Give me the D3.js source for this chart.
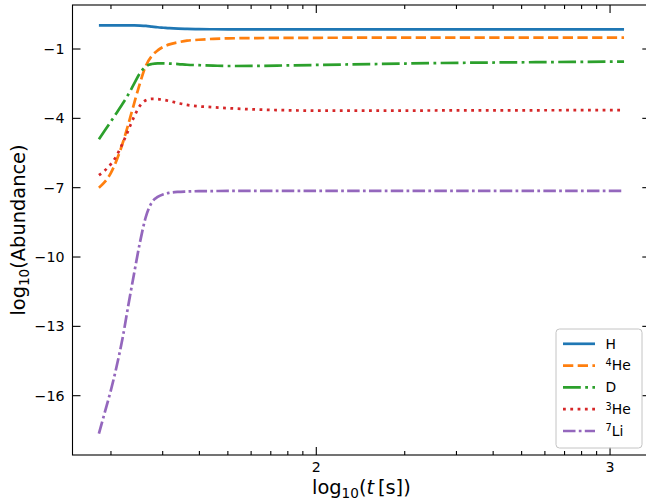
<!DOCTYPE html>
<html>
<head>
<meta charset="utf-8">
<script src="https://cdn.jsdelivr.net/npm/d3@7"></script>
<style>
  body { margin: 0; background: #fff; }
  svg { display: block; font-family: "DejaVu Sans", sans-serif; }
</style>
</head>
<body>
<svg id="chart"></svg>
<script>
// log10(t [s]) grid and log10 abundances
const logT = [1.26, 1.28, 1.30, 1.32, 1.34, 1.36, 1.38, 1.40, 1.42, 1.44, 1.46, 1.48, 1.50,
              1.53, 1.56, 1.60, 1.65, 1.70, 1.80, 1.90, 2.0, 2.2, 2.4, 2.6, 2.8, 3.0, 3.0476];
const abH   = [0.025, 0.025, 0.025, 0.025, 0.025, 0.025, 0.022, 0.015, 0.0, -0.03, -0.06, -0.08, -0.10,
               -0.12, -0.13, -0.14, -0.145, -0.148, -0.15, -0.15, -0.15, -0.15, -0.15, -0.15, -0.15, -0.15, -0.15];
const abHe4 = [-7.0, -6.75, -6.38, -5.82, -5.11, -4.26, -3.35, -2.47, -1.72, -1.30, -1.06, -0.90, -0.80,
               -0.71, -0.64, -0.60, -0.56, -0.54, -0.525, -0.52, -0.515, -0.51, -0.51, -0.51, -0.51, -0.51, -0.51];
const abD   = [-4.90, -4.53, -4.15, -3.77, -3.38, -2.97, -2.50, -2.04, -1.75, -1.65, -1.62, -1.62, -1.63,
               -1.65, -1.68, -1.70, -1.72, -1.735, -1.73, -1.71, -1.69, -1.65, -1.61, -1.585, -1.565, -1.55, -1.55];
const abHe3 = [-6.46, -6.26, -5.99, -5.62, -5.10, -4.52, -3.92, -3.45, -3.22, -3.16, -3.17, -3.20, -3.25,
               -3.34, -3.42, -3.48, -3.52, -3.56, -3.62, -3.65, -3.67, -3.67, -3.66, -3.655, -3.65, -3.645, -3.645];
const abLi7 = [-17.64, -16.72, -15.80, -14.75, -13.55, -12.10, -10.70, -9.35, -8.25, -7.64, -7.40, -7.28, -7.22,
               -7.18, -7.165, -7.15, -7.145, -7.14, -7.14, -7.14, -7.14, -7.14, -7.14, -7.14, -7.14, -7.14, -7.14];

const labelSup  = ["", "4", "", "3", "7"];
const labelBase = ["H", "He", "D", "He", "Li"];
const yTickVals = [-1, -4, -7, -10, -13, -16];
const xMajorLabels = { 100: "2", 1000: "3" };

const series = [abH, abHe4, abD, abHe3, abLi7];
const colors = ["#1f77b4", "#ff7f0e", "#2ca02c", "#d62728", "#9467bd"];
const dashes = [null, "10.3,4.4", "17.8,4.4,2.8,4.4", "2.8,4.5", "12.5,3.3,2.7,3.3"];

const W = 646, H = 504;
const mLeft = 72.5, mRight = 650.3, mTop = 5, mBottom = 455;

const svg = d3.select("#chart").attr("width", W).attr("height", H);

const x = d3.scaleLog()
    .domain([Math.pow(10, 1.1701), Math.pow(10, 3.137)])
    .range([mLeft, mRight]);
const y = d3.scaleLinear()
    .domain([-18.566, 0.904])
    .range([mBottom, mTop]);

const allTicks = x.ticks().filter(t => x(t) >= mLeft && x(t) <= mRight);
const isMajor = t => Math.abs(Math.log10(t) - Math.round(Math.log10(t))) < 1e-9;

const plot = svg.append("g");

// curves
const line = d3.line()
    .x(d => x(Math.pow(10, d[0])))
    .y(d => y(d[1]))
    .curve(d3.curveMonotoneX);

series.forEach((vals, i) => {
    plot.append("path")
        .datum(logT.map((t, j) => [t, vals[j]]))
        .attr("fill", "none")
        .attr("stroke", colors[i])
        .attr("stroke-width", 2.7)
        .attr("stroke-dasharray", dashes[i])
        .attr("d", line);
});

// frame
const ax = svg.append("g").attr("stroke", "#000").attr("stroke-width", 1.1);
ax.append("rect")
    .attr("x", mLeft).attr("y", mTop)
    .attr("width", mRight - mLeft).attr("height", mBottom - mTop)
    .attr("fill", "none");

// x ticks (inward, bottom and top)
allTicks.forEach(t => {
    const len = isMajor(t) ? 8 : 4;
    const px = x(t);
    ax.append("line").attr("x1", px).attr("x2", px).attr("y1", mBottom).attr("y2", mBottom - len);
    ax.append("line").attr("x1", px).attr("x2", px).attr("y1", mTop).attr("y2", mTop + len);
});

// y ticks (inward, left and right)
yTickVals.forEach(v => {
    const py = y(v);
    ax.append("line").attr("x1", mLeft).attr("x2", mLeft + 8).attr("y1", py).attr("y2", py);
    ax.append("line").attr("x1", mRight).attr("x2", mRight - 8).attr("y1", py).attr("y2", py);
});

// tick labels
svg.append("g").selectAll("text")
    .data(yTickVals)
    .join("text")
    .attr("x", mLeft - 8)
    .attr("y", d => y(d))
    .attr("dy", "0.36em")
    .attr("text-anchor", "end")
    .attr("font-size", 14.2)
    .attr("fill", "#000")
    .text(d => String(d).replace("-", "\u2212"));

svg.append("g").selectAll("text")
    .data(allTicks.filter(isMajor))
    .join("text")
    .attr("x", d => x(d))
    .attr("y", 471.7)
    .attr("text-anchor", "middle")
    .attr("font-size", 14.2)
    .attr("fill", "#000")
    .text(d => xMajorLabels[Math.round(d)]);

// axis labels
const xl = svg.append("text")
    .attr("x", (mLeft + mRight) / 2)
    .attr("y", 494)
    .attr("text-anchor", "middle")
    .attr("font-size", 19.4)
    .attr("fill", "#000");
xl.append("tspan").text("log");
xl.append("tspan").attr("font-size", "0.7em").attr("dy", "0.3em").text("10");
xl.append("tspan").attr("dy", "-0.21em").text("(");
xl.append("tspan").attr("font-style", "italic").text("t");
xl.append("tspan").text("\u2009[s])");

const yl = svg.append("text")
    .attr("transform", `translate(25,${(mTop + mBottom) / 2}) rotate(-90)`)
    .attr("text-anchor", "middle")
    .attr("font-size", 19.4)
    .attr("fill", "#000");
yl.append("tspan").text("log");
yl.append("tspan").attr("font-size", "0.7em").attr("dy", "0.3em").text("10");
yl.append("tspan").attr("dy", "-0.21em").text("(Abundance)");

// legend
const lg = svg.append("g");
lg.append("rect")
    .attr("x", 556).attr("y", 329)
    .attr("width", 86).attr("height", 119)
    .attr("rx", 3.5)
    .attr("fill", "#fff").attr("fill-opacity", 0.8)
    .attr("stroke", "#c4c4c4").attr("stroke-width", 1);

labelBase.forEach((lab, i) => {
    const cy = 343.8 + i * 21.8;
    lg.append("line")
        .attr("x1", 563).attr("x2", 595)
        .attr("y1", cy).attr("y2", cy)
        .attr("stroke", colors[i])
        .attr("stroke-width", 2.7)
        .attr("stroke-dasharray", dashes[i]);
    const txt = lg.append("text")
        .attr("x", 605.5)
        .attr("y", cy + 4.8)
        .attr("font-size", 13.9)
        .attr("fill", "#000");
    if (labelSup[i]) {
        txt.append("tspan").attr("font-size", "0.7em").attr("dy", "-0.45em").text(labelSup[i]);
        txt.append("tspan").attr("dy", "0.315em").text(lab);
    } else {
        txt.append("tspan").text(lab);
    }
});
</script>
</body>
</html>
